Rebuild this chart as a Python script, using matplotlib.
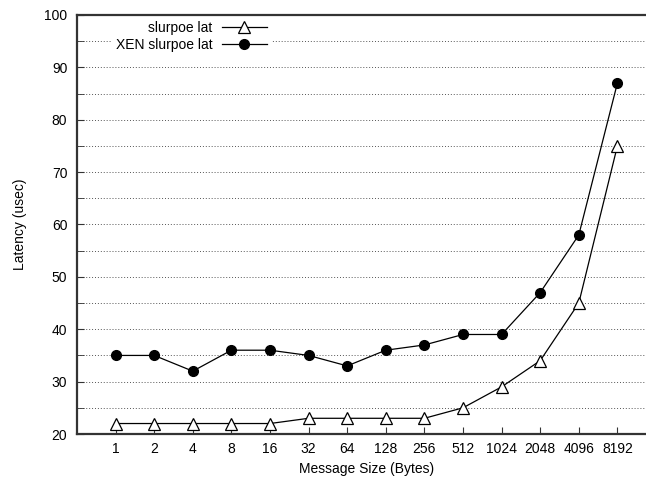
import matplotlib
matplotlib.use("Agg")
import matplotlib.pyplot as plt
from matplotlib.ticker import MultipleLocator

plt.rcParams["font.family"] = ["Liberation Sans", "DejaVu Sans"]
plt.rcParams["font.size"] = 10

# Message sizes (categorical x axis) and measured latencies
sizes = ["1", "2", "4", "8", "16", "32", "64", "128", "256", "512",
         "1024", "2048", "4096", "8192"]
slurpoe_lat = [22, 22, 22, 22, 22, 23, 23, 23, 23, 25, 29, 34, 45, 75]
xen_slurpoe_lat = [35, 35, 32, 36, 36, 35, 33, 36, 37, 39, 39, 47, 58, 87]

fig = plt.figure(figsize=(6.46, 4.80), dpi=100)
# plot area runs past the right edge of the image, as in the reference
ax = fig.add_axes([77 / 646, 46 / 480, 579 / 646, 419 / 480])

x = list(range(len(sizes)))
ax.plot(x, slurpoe_lat, color="black", linewidth=0.9, marker="^",
        markersize=8, markerfacecolor="white", markeredgecolor="black",
        markeredgewidth=0.9, label="slurpoe lat", zorder=3)
ax.plot(x, xen_slurpoe_lat, color="black", linewidth=0.9, marker="o",
        markersize=7, markerfacecolor="black", markeredgecolor="black",
        label="XEN slurpoe lat", zorder=3)

ax.set_xlim(-1, len(sizes))
ax.set_ylim(20, 100)
ax.set_xticks(x)
ax.set_xticklabels(sizes)
ax.yaxis.set_major_locator(MultipleLocator(10))
ax.yaxis.set_minor_locator(MultipleLocator(5))

ax.tick_params(axis="both", which="both", direction="in", color="#333333")
ax.tick_params(axis="y", which="major", length=5, pad=7)
ax.tick_params(axis="y", which="minor", length=5)
ax.tick_params(axis="x", which="major", length=5, pad=6)

ax.grid(True, axis="y", which="both", linestyle=(0, (1, 2)),
        linewidth=0.7, color="#555555")
ax.set_axisbelow(True)

for side in ("left", "bottom", "top"):
    ax.spines[side].set_color("#333333")
    ax.spines[side].set_linewidth(1.6)
ax.spines["right"].set_visible(False)

ax.set_xlabel("Message Size (Bytes)", labelpad=4)
ax.set_ylabel("Latency (usec)", labelpad=12)

leg = ax.legend(loc="upper right", bbox_to_anchor=(0.336, 0.995),
                markerfirst=False, handlelength=3.3, handletextpad=0.65,
                labelspacing=0.2, borderpad=0.3, borderaxespad=0,
                frameon=True, fancybox=False, framealpha=1,
                facecolor="white", edgecolor="none")

fig.savefig("out.png", dpi=100)
